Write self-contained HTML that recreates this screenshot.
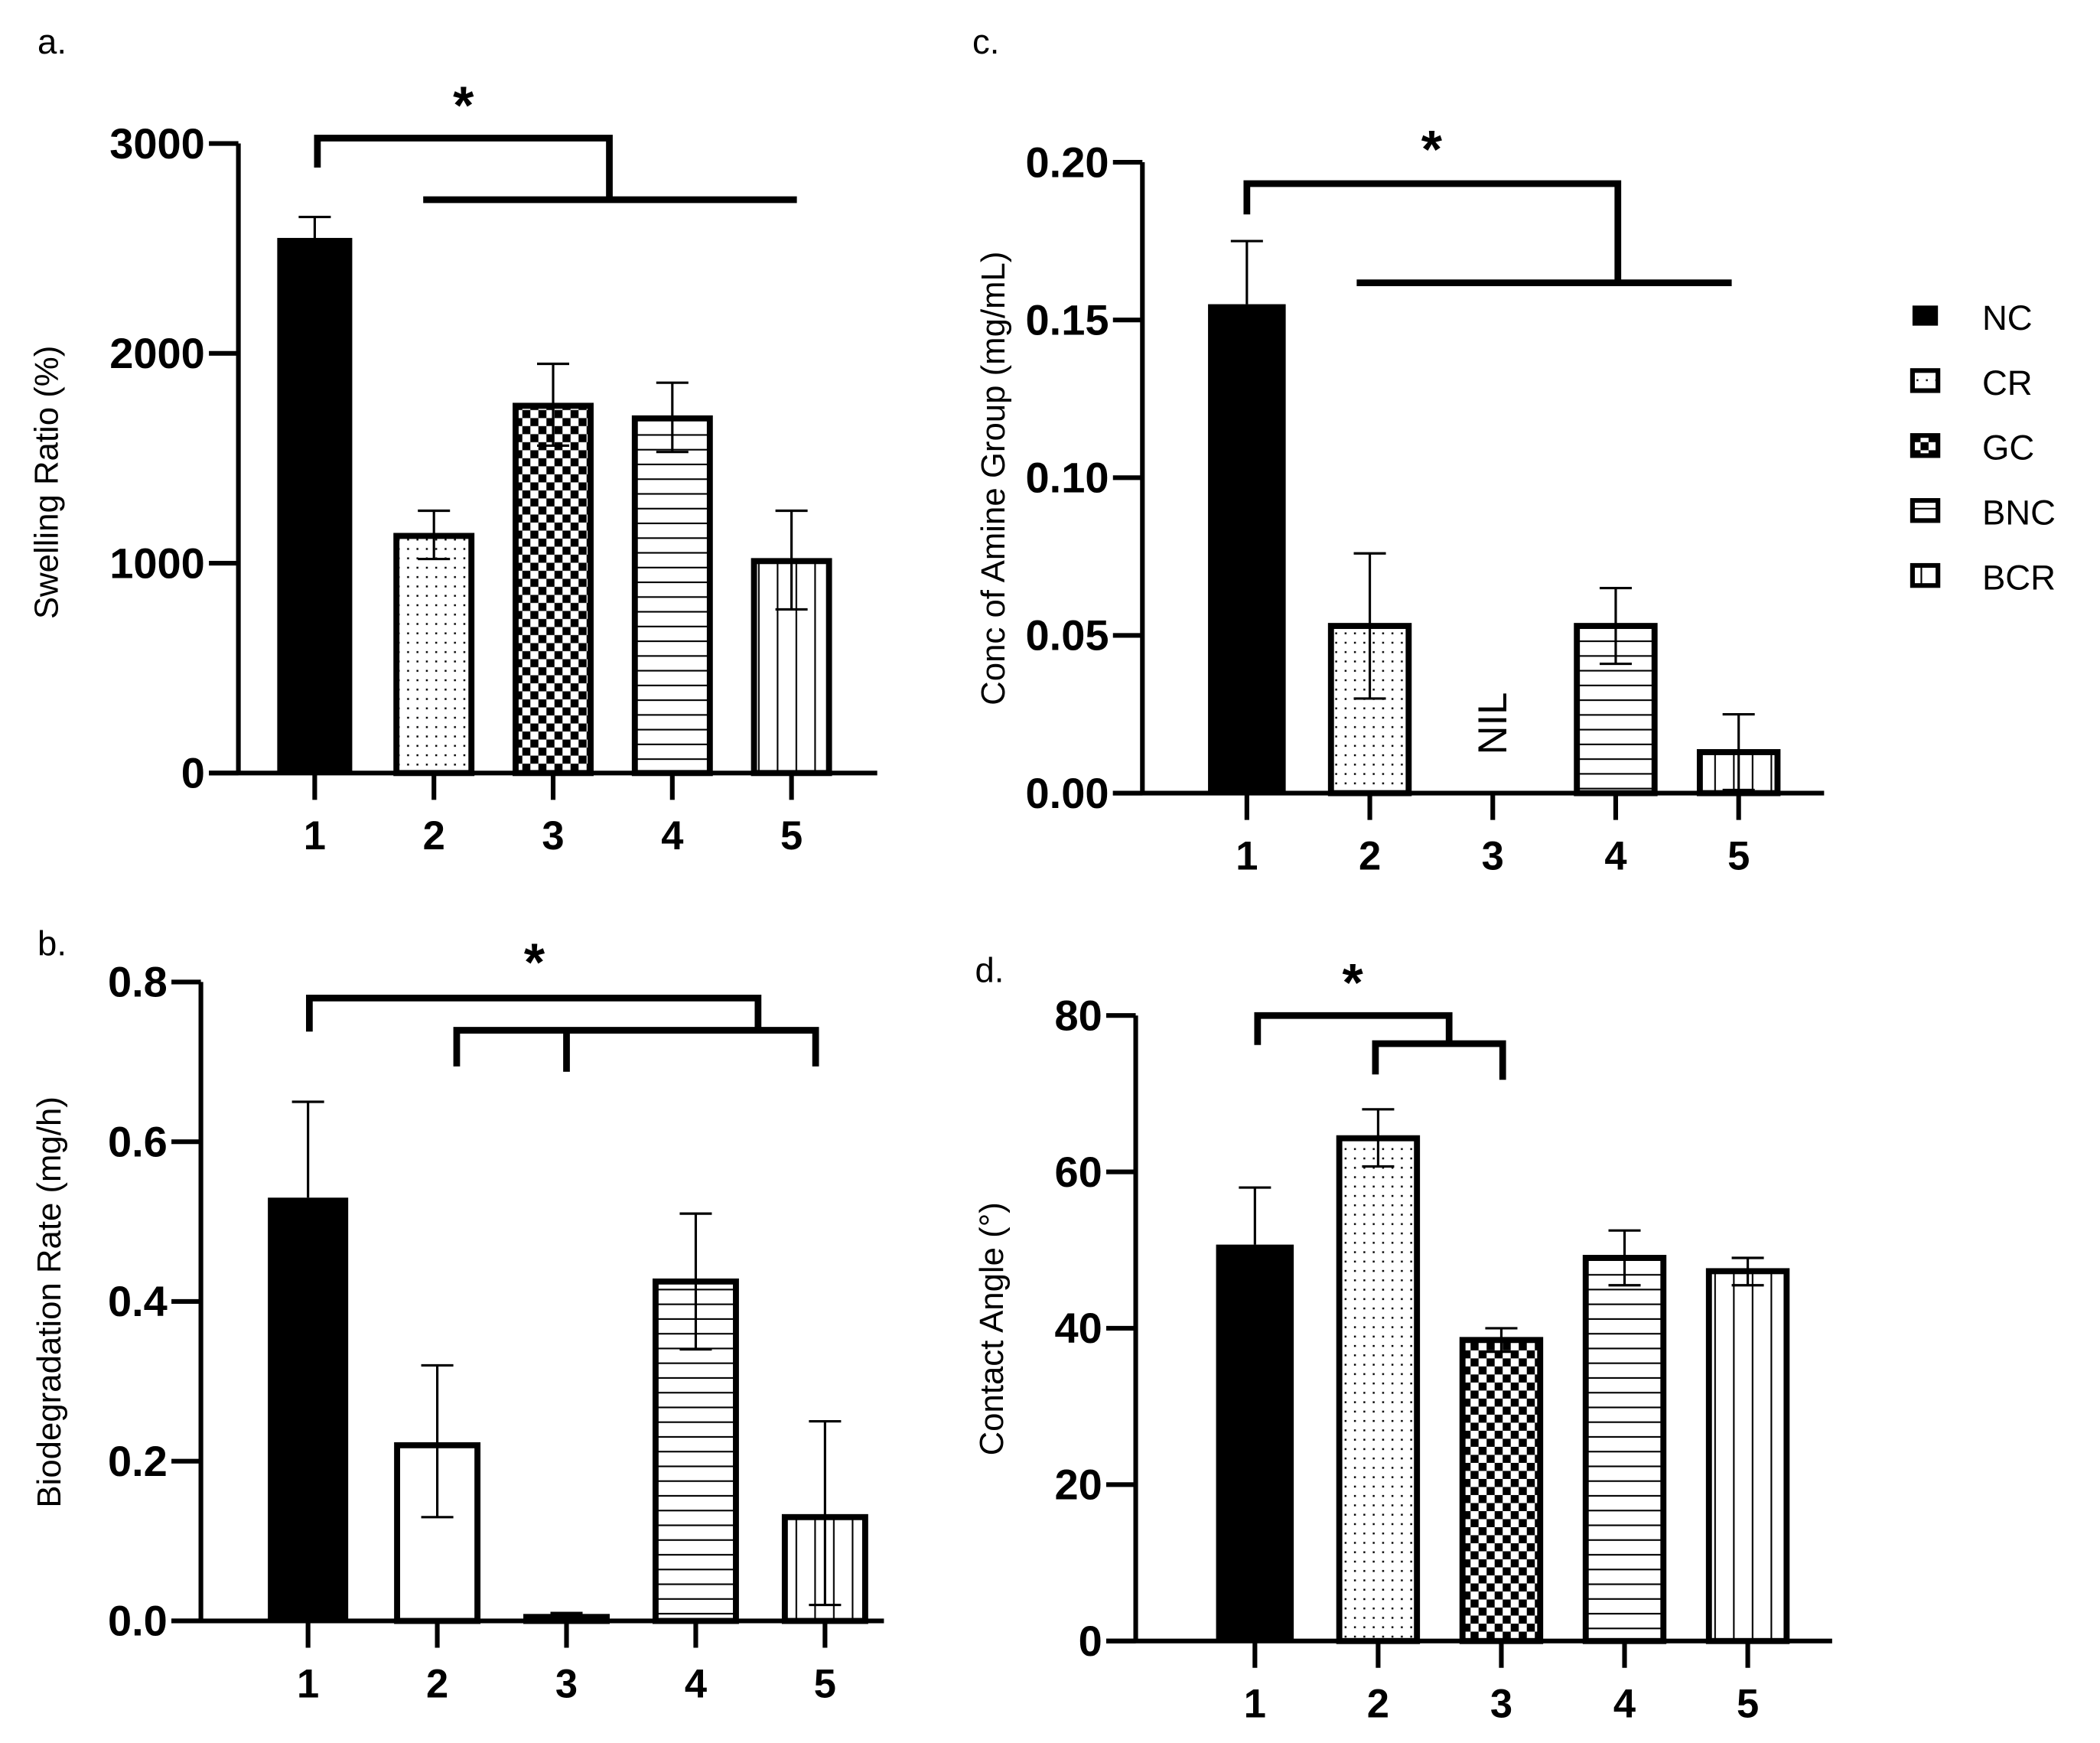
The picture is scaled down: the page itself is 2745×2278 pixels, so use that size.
<!DOCTYPE html>
<html><head><meta charset="utf-8"><style>
html,body{margin:0;padding:0;background:#fff;}
svg{display:block;}
text{font-family:"Liberation Sans",Arial,sans-serif;}
</style></head><body>
<svg id="fig" width="2745" height="2278" viewBox="0 0 1568 1301" xmlns="http://www.w3.org/2000/svg">
<defs>
<pattern id="p-dots" width="7" height="7" patternUnits="userSpaceOnUse"><rect width="7" height="7" fill="#fff"/><rect x="3" y="3" width="1.4" height="1.4" fill="#000"/></pattern>
<pattern id="p-check" width="12" height="12" patternUnits="userSpaceOnUse"><rect width="12" height="12" fill="#fff"/><rect width="6" height="6" fill="#000"/><rect x="6" y="6" width="6" height="6" fill="#000"/></pattern>
<pattern id="p-hlines" width="10" height="11" patternUnits="userSpaceOnUse"><rect width="10" height="11" fill="#fff"/><rect y="5" width="10" height="1.2" fill="#000"/></pattern>
<pattern id="p-vlines" width="14" height="10" patternUnits="userSpaceOnUse"><rect width="14" height="10" fill="#fff"/><rect x="6" width="1.2" height="10" fill="#000"/></pattern>
</defs>
<g id="root"></g>
</svg>
<script>
const categories = ["1","2","3","4","5"];
// Panel a
const aValues = [2550, 1130, 1750, 1690, 1010];
const aErrHigh = [2650, 1250, 1950, 1860, 1250];
const aErrLow = [2550, 1020, 1560, 1530, 780];
const aTicks = [0, 1000, 2000, 3000];
const aTickLabels = ["0","1000","2000","3000"];
// Panel b
const bValues = [0.53, 0.22, 0.005, 0.425, 0.13];
const bErrHigh = [0.65, 0.32, 0.01, 0.51, 0.25];
const bErrLow = [0.53, 0.13, 0.005, 0.34, 0.02];
const bTicks = [0, 0.2, 0.4, 0.6, 0.8];
const bTickLabels = ["0.0","0.2","0.4","0.6","0.8"];
// Panel c
const cValues = [0.155, 0.053, 0, 0.053, 0.013];
const cErrHigh = [0.175, 0.076, 0, 0.065, 0.025];
const cErrLow = [0.155, 0.030, 0, 0.041, 0.001];
const cTicks = [0, 0.05, 0.10, 0.15, 0.20];
const cTickLabels = ["0.00","0.05","0.10","0.15","0.20"];
// Panel d
const dValues = [50.7, 64.3, 38.5, 49, 47.3];
const dErrHigh = [58, 68, 40, 52.5, 49];
const dErrLow = [50.7, 60.7, 37, 45.5, 45.5];
const dTicks = [0, 20, 40, 60, 80];
const dTickLabels = ["0","20","40","60","80"];
const legendLabels = ["NC","CR","GC","BNC","BCR"];

const NS = "http://www.w3.org/2000/svg";
const root = document.getElementById("root");
function mk(tag, attrs, parent){const e=document.createElementNS(NS,tag);for(const k in attrs)e.setAttribute(k,attrs[k]);(parent||root).appendChild(e);return e;}

function panel(cfg){
  const g = mk("g",{});
  
  
  const y = v => cfg.y0 - (v - cfg.ymin)/(cfg.ymax-cfg.ymin)*(cfg.y0-cfg.y1);
  const x = i => cfg.xc0 + i*cfg.step;
  cfg.values.forEach((v,i)=>{
    if(cfg.nil && cfg.nil===i+1) return;
    const fill = cfg.fills[i];
    const r = mk("rect",{x:x(i)-cfg.bw/2,y:y(v),width:cfg.bw,height:y(cfg.ymin)-y(v),fill:fill,stroke:"#000","stroke-width":fill==="#000"?0:4.5},g);
    
    
    if(cfg.errHigh[i]>v){
      const e = mk("path",{d:`M${x(i)},${y(cfg.errLow[i])}V${y(cfg.errHigh[i])}M${x(i)-12},${y(cfg.errHigh[i])}H${x(i)+12}`+(cfg.errLow[i]<v?`M${x(i)-12},${y(cfg.errLow[i])}H${x(i)+12}`:""),stroke:"#000","stroke-width":1.8,fill:"none"},g);
      
      
    }
  });
  if(cfg.nil){
    const t = mk("text",{x:0,y:0,"font-size":30,"text-anchor":"middle",transform:`translate(${x(cfg.nil-1)+10},${cfg.y0-52}) rotate(-90)`},g);
    t.textContent="NIL";
    
    
  }
  const ax = mk("path",{d:`M${cfg.ax},${cfg.y1}V${cfg.y0}M${cfg.ax-22},${cfg.y0}H${cfg.xend}`,stroke:"#000","stroke-width":3.5,fill:"none"},g);
  
  
  cfg.ticks.forEach((t,i)=>{
    mk("path",{d:`M${cfg.ax-22},${y(t)}H${cfg.ax}`,stroke:"#000","stroke-width":3.5},g);
    const tl = mk("text",{x:cfg.ax-25,y:y(t)+11,"font-size":32,"font-weight":"bold","text-anchor":"end"},g);
    tl.textContent = cfg.tickLabels[i];
    
    
  });
  categories.forEach((c,i)=>{
    mk("path",{d:`M${x(i)},${cfg.y0}V${cfg.y0+20}`,stroke:"#000","stroke-width":3.5},g);
    const tl = mk("text",{x:x(i),y:cfg.y0+57,"font-size":30,"font-weight":"bold","text-anchor":"middle"},g);
    tl.textContent = c;
    
    
  });
  const yt = mk("text",{x:0,y:0,"font-size":25,"text-anchor":"middle",transform:`translate(${cfg.titleX},${cfg.titleY}) rotate(-90)`},g);
  yt.textContent = cfg.title;
  
  
  const pl = mk("text",{x:cfg.lx,y:cfg.ly,"font-size":26},g);
  pl.textContent = cfg.label;
  
  
  const br = mk("path",{d:cfg.bracket,stroke:"#000","stroke-width":5,fill:"none"},g);
  
  
  const st = mk("text",{x:cfg.star[0],y:cfg.star[1],"font-size":40,"font-weight":"bold","text-anchor":"middle"},g);
  st.textContent="*";
  
  
}
const F5 = ["#000","url(#p-dots)","url(#p-check)","url(#p-hlines)","url(#p-vlines)"];

panel({name:"panel-a",label:"a.",lx:28,ly:40,values:aValues,errHigh:aErrHigh,errLow:aErrLow,ticks:aTicks,tickLabels:aTickLabels,
 ymin:0,ymax:3000,y0:577,y1:107,ax:178,xend:655,xc0:235,step:89,bw:56,fills:F5,title:"Swelling Ratio (%)",titleX:43,titleY:360,
 bracket:"M237,125V103H455V148M316,149H595",star:[346,92]});
panel({name:"panel-b",label:"b.",lx:28,ly:713,values:bValues,errHigh:bErrHigh,errLow:bErrLow,ticks:bTicks,tickLabels:bTickLabels,
 ymin:0,ymax:0.8,y0:1210,y1:733,ax:150,xend:660,xc0:230,step:96.5,bw:60,fills:["#000","#fff","url(#p-check)","url(#p-hlines)","url(#p-vlines)"],title:"Biodegradation Rate (mg/h)",titleX:45,titleY:972,
 bracket:"M231,770V745H566V767M341,796V769H609V796M423,769V800",star:[399,732]});
panel({name:"panel-c",label:"c.",lx:726,ly:40,values:cValues,errHigh:cErrHigh,errLow:cErrLow,ticks:cTicks,tickLabels:cTickLabels,
 ymin:0,ymax:0.2,y0:592,y1:121,ax:853,xend:1362,xc0:931,step:91.8,bw:58,fills:F5,nil:3,title:"Conc of Amine Group (mg/mL)",titleX:750,titleY:357,
 bracket:"M931,160V137H1208V211M1013,211H1293",star:[1069,125]});
panel({name:"panel-d",label:"d.",lx:728,ly:733,values:dValues,errHigh:dErrHigh,errLow:dErrLow,ticks:dTicks,tickLabels:dTickLabels,
 ymin:0,ymax:80,y0:1225,y1:758,ax:848,xend:1368,xc0:937,step:92,bw:58,fills:F5,title:"Contact Angle (°)",titleX:749,titleY:992,
 bracket:"M939,780V758H1082V777M1027,802V779H1122V806",star:[1010,747]});

const lg = mk("g",{});


legendLabels.forEach((l,i)=>{
  const yy = 236 + i*48.5;
  const f = F5[i];
  mk("rect",{x:1428,y:yy-8,width:19,height:15,fill:f,stroke:"#000","stroke-width":f==="#000"?0:3.5},lg);
  const t = mk("text",{x:1480,y:yy+10,"font-size":26},lg);
  t.textContent = l;
  
  
});
</script>
</body></html>
